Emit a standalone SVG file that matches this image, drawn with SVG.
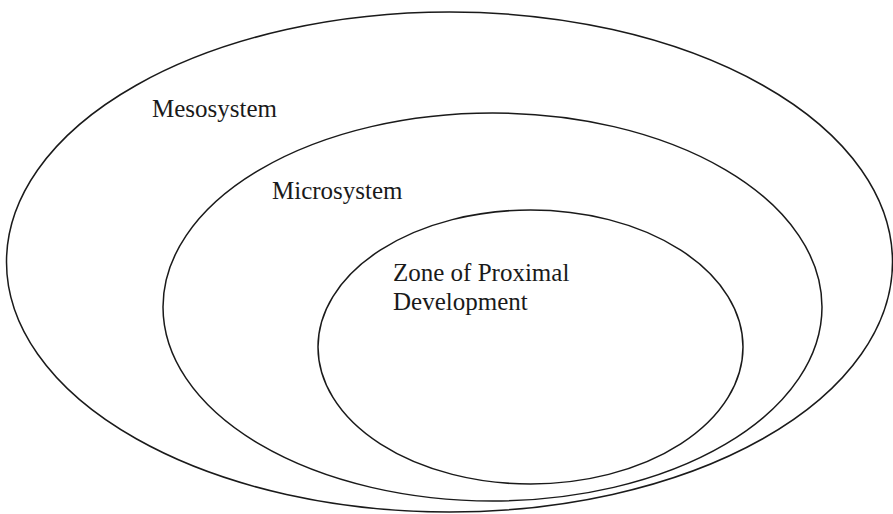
<svg xmlns="http://www.w3.org/2000/svg" width="893" height="514" viewBox="0 0 893 514">
<style>
.ring{fill:none;stroke:#1a1a1a;stroke-width:1.5}
.lbl{font-family:"Liberation Serif","Times New Roman",serif;font-size:25px;fill:#1a1a1a}
</style>
<rect width="893" height="514" fill="#fff"/>
<g id="mesosystem">
<ellipse class="ring" cx="449.5" cy="262" rx="443" ry="250"/>
<text class="lbl" x="152" y="117">Mesosystem</text>
</g>
<g id="microsystem">
<ellipse class="ring" cx="492.5" cy="307" rx="329.5" ry="194"/>
<text class="lbl" x="272" y="199">Microsystem</text>
</g>
<g id="zpd">
<ellipse class="ring" cx="530.5" cy="347" rx="212.5" ry="137"/>
<text class="lbl" x="393" y="281">Zone of Proximal</text>
<text class="lbl" x="393" y="310">Development</text>
</g>
<g id="connectors"></g>
</svg>
